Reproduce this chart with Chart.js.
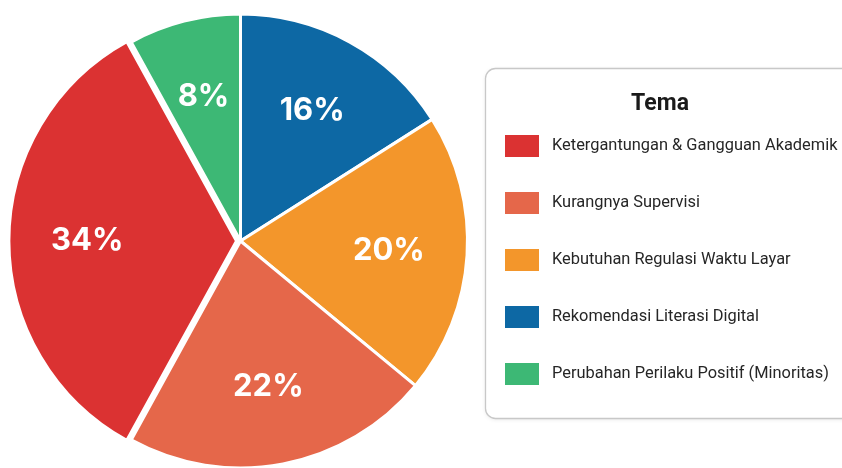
<!DOCTYPE html>
<html>
<head>
<meta charset="utf-8">
<script src="https://cdn.jsdelivr.net/npm/chart.js@4.4.1/dist/chart.umd.min.js"></script>
<style>
html, body { margin: 0; padding: 0; background: #fff; overflow: hidden; }
#wrap { width: 842px; height: 468px; position: relative; }
</style>
</head>
<body>
<div id="wrap"><canvas id="pie"></canvas></div>
<script>
"use strict";

var temaLabels = [
    'Ketergantungan & Gangguan Akademik',
    'Kurangnya Supervisi',
    'Kebutuhan Regulasi Waktu Layar',
    'Rekomendasi Literasi Digital',
    'Perubahan Perilaku Positif (Minoritas)'
];
var temaPersen = [34, 22, 20, 16, 8];
var temaWarna = ['#db3232', '#e5674a', '#f3962b', '#0d68a4', '#3db875'];
var temaOffset = [16, 0, 0, 0, 0];
var judulLegenda = 'Tema';

// the picture runs counter-clockwise from 12 o'clock, Chart.js runs clockwise -> reverse
var urutan = temaLabels.map(function (l, i) { return i; }).reverse();
var total = temaPersen.reduce(function (a, b) { return a + b; }, 0);
var putar = -temaPersen[urutan[0]] / total * 360;

var persenLabel = {
    id: 'persenLabel',
    afterDatasetsDraw: function (chart) {
        var ctx = chart.ctx;
        var meta = chart.getDatasetMeta(0);
        var data = chart.data.datasets[0].data;
        ctx.save();
        ctx.font = 'bold 31px Inter';
        ctx.fillStyle = '#fff';
        ctx.textAlign = 'center';
        ctx.textBaseline = 'middle';
        meta.data.forEach(function (arc, k) {
            var p = arc.getProps(['x', 'y', 'startAngle', 'endAngle', 'outerRadius', 'circumference'], true);
            var mid = (p.startAngle + p.endAngle) / 2;
            // same shift the arc element uses for its offset
            var off = (arc.options.offset || 0) / 4;
            off = off + off * (1 - Math.sin(Math.min(Math.PI, p.circumference)));
            var r = p.outerRadius * 0.655 + off;
            ctx.fillText(data[k] + '%', p.x + Math.cos(mid) * r, p.y + Math.sin(mid) * r);
        });
        ctx.restore();
    }
};

var panelLegenda = {
    id: 'panelLegenda',
    afterDraw: function (chart) {
        var ctx = chart.ctx;
        var x0 = chart.chartArea.right + 4;
        var y0 = 68;
        ctx.save();
        ctx.beginPath();
        ctx.roundRect(x0 + 0.5, y0 + 0.5, 420, 350, 10);
        ctx.shadowColor = 'rgba(0,0,0,0.10)';
        ctx.shadowBlur = 4;
        ctx.shadowOffsetY = 1;
        ctx.fillStyle = '#fff';
        ctx.fill();
        ctx.shadowColor = 'transparent';
        ctx.lineWidth = 1.3;
        ctx.strokeStyle = '#c8c8c8';
        ctx.stroke();

        ctx.fillStyle = '#1a1a1a';
        ctx.font = 'bold 23px Roboto';
        ctx.textAlign = 'center';
        ctx.textBaseline = 'alphabetic';
        ctx.fillText(judulLegenda, x0 + 175, 110);

        ctx.textAlign = 'left';
        ctx.textBaseline = 'middle';
        ctx.font = '16.4px Roboto';
        temaLabels.forEach(function (t, i) {
            var y = y0 + 67 + i * 57;
            ctx.fillStyle = temaWarna[i];
            ctx.fillRect(x0 + 20, y, 34, 22);
            ctx.fillStyle = '#262626';
            ctx.fillText(t, x0 + 67, y + 11);
        });
        ctx.restore();
    }
};

new Chart(document.getElementById('pie'), {
    type: 'pie',
    data: {
        labels: urutan.map(function (i) { return temaLabels[i]; }),
        datasets: [{
            data: urutan.map(function (i) { return temaPersen[i]; }),
            backgroundColor: urutan.map(function (i) { return temaWarna[i]; }),
            offset: urutan.map(function (i) { return temaOffset[i]; }),
            hoverOffset: 0,
            borderColor: '#fff',
            borderWidth: 3
        }]
    },
    options: {
        responsive: true,
        maintainAspectRatio: false,
        animation: false,
        rotation: putar,
        radius: 227,
        layout: { padding: { top: 14, bottom: 0, left: 0, right: 361 } },
        plugins: {
            legend: { display: false },
            tooltip: { enabled: false }
        }
    },
    plugins: [persenLabel, panelLegenda]
});
</script>
</body>
</html>
